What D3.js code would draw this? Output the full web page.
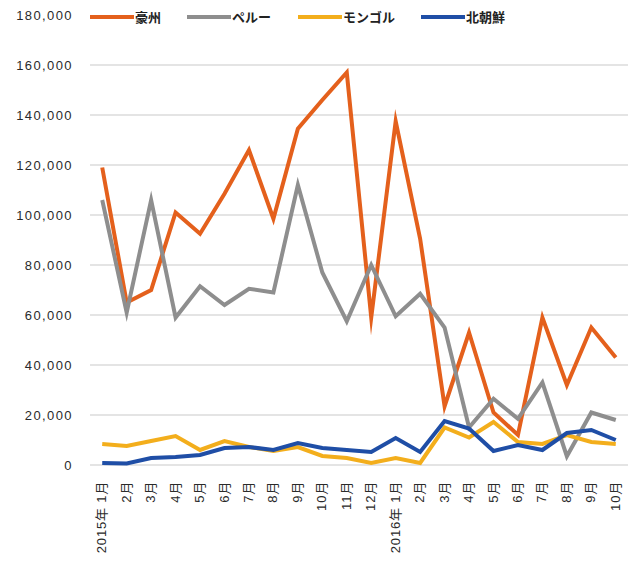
<!DOCTYPE html>
<html>
<head>
<meta charset="utf-8">
<script src="https://cdn.jsdelivr.net/npm/d3@7"></script>
<style>
  html, body { margin: 0; padding: 0; background: #fff; }
  svg { display: block; font-family: "Liberation Sans", Arial, "Noto Sans CJK JP", sans-serif; }
</style>
</head>
<body>
<svg id="chart" width="635" height="562"></svg>
<script>
// Monthly categories, Jan 2015 – Oct 2016
const months = ["2015年 1月","2月","3月","4月","5月","6月","7月","8月","9月","10月","11月","12月",
                "2016年 1月","2月","3月","4月","5月","6月","7月","8月","9月","10月"];

const seriesNames = ["豪州", "ペルー", "モンゴル", "北朝鮮"];
const seriesColors = ["#e4601c", "#8e8e8e", "#f3ae1c", "#1f4ea6"];

const australia = [119000, 65000, 70000, 101000, 92500, 108500, 126000, 98500, 134500, 146000, 157000, 59000,
                   137500, 90500, 23500, 53000, 21000, 12000, 59000, 32000, 55000, 43000];
const peru      = [106000, 61000, 106000, 59000, 71500, 64000, 70500, 69000, 112000, 77000, 57500, 80000,
                   59500, 68500, 55000, 15000, 26500, 18500, 33000, 3500, 21000, 18000];
const mongolia  = [8400, 7600, 9600, 11600, 6000, 9600, 7200, 5600, 7200, 3600, 2800, 800,
                   2800, 800, 15000, 11000, 17200, 9200, 8400, 12000, 9200, 8400];
const nkorea    = [800, 600, 2800, 3200, 4000, 6800, 7200, 6000, 8800, 6800, 6000, 5200,
                   10800, 5200, 17600, 14600, 5600, 8000, 6000, 12800, 14000, 10000];

const yTicks = [0, 20000, 40000, 60000, 80000, 100000, 120000, 140000, 160000, 180000];

const seriesValues = [australia, peru, mongolia, nkorea];

const svg = d3.select("#chart");
const plotLeft = 90, plotRight = 628, plotTop = 15, plotBottom = 465;

const x = d3.scaleBand().domain(d3.range(months.length)).range([plotLeft, plotRight]);
const y = d3.scaleLinear().domain([0, 180000]).range([plotBottom, plotTop]);

// horizontal gridlines (top one sits behind the legend)
svg.append("g")
  .selectAll("line")
  .data(yTicks.filter(t => t < 180000))
  .join("line")
  .attr("x1", plotLeft).attr("x2", plotRight)
  .attr("y1", d => y(d)).attr("y2", d => y(d))
  .attr("stroke", "#c9c9c9").attr("stroke-width", 1);

// y axis labels
const fmt = d3.format(",");
svg.append("g")
  .selectAll("text")
  .data(yTicks)
  .join("text")
  .attr("x", 73).attr("y", d => y(d))
  .attr("dy", "0.35em")
  .attr("text-anchor", "end")
  .attr("font-size", 13)
  .attr("letter-spacing", 1.4)
  .attr("fill", "#2a2a2a")
  .text(d => fmt(d));

// x axis labels, rotated
svg.append("g")
  .selectAll("text")
  .data(months)
  .join("text")
  .attr("transform", (d, i) => `translate(${x(i) + x.bandwidth() / 2 + 4},${plotBottom + 16}) rotate(-90)`)
  .attr("text-anchor", "end")
  .attr("font-size", 13)
  .attr("letter-spacing", 0.8)
  .attr("fill", "#2a2a2a")
  .text(d => d);

// series lines
const line = d3.line()
  .x((d, i) => x(i) + x.bandwidth() / 2)
  .y(d => y(d));

svg.append("g")
  .selectAll("path")
  .data(seriesValues)
  .join("path")
  .attr("d", d => line(d))
  .attr("fill", "none")
  .attr("stroke", (d, i) => seriesColors[i])
  .attr("stroke-width", 4)
  .attr("stroke-linejoin", "miter")
  .attr("stroke-miterlimit", 10);

// legend
const legendX = [90, 187, 298, 421];
const legend = svg.append("g")
  .selectAll("g")
  .data(seriesNames)
  .join("g")
  .attr("transform", (d, i) => `translate(${legendX[i]},17)`);
legend.append("line")
  .attr("x1", 0).attr("x2", 44)
  .attr("stroke", (d, i) => seriesColors[i])
  .attr("stroke-width", 4);
legend.append("text")
  .attr("x", 45).attr("dy", "0.36em")
  .attr("font-size", 13)
  .attr("font-weight", "bold")
  .attr("fill", "#222")
  .text(d => d);
</script>
</body>
</html>
